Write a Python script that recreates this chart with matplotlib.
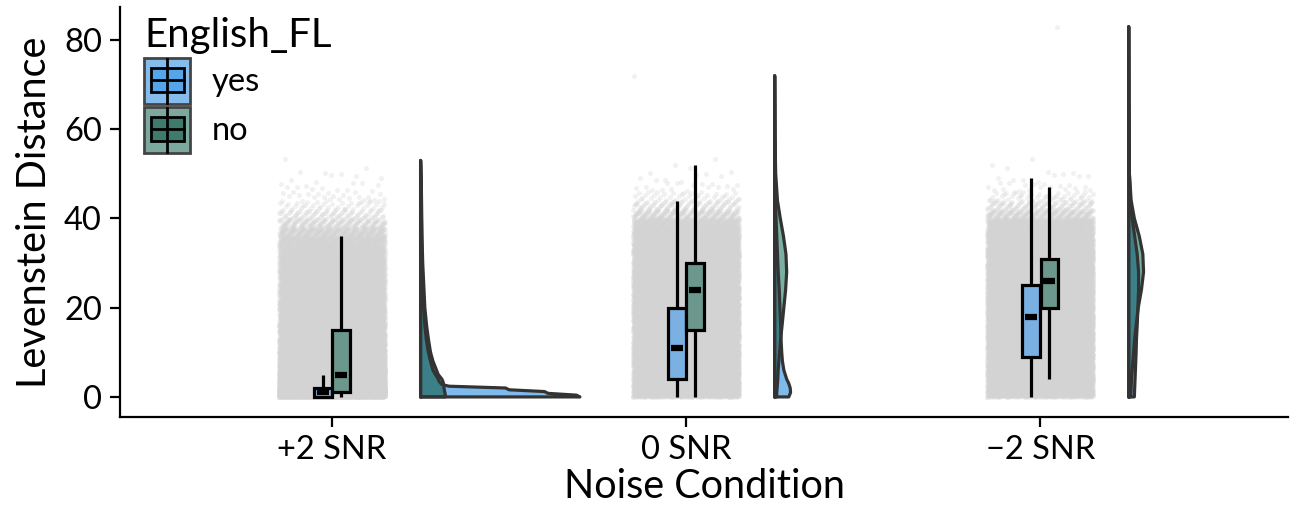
import matplotlib
matplotlib.use('Agg')
import matplotlib.pyplot as plt
from matplotlib.patches import Rectangle
import numpy as np

plt.rcParams['font.family'] = ['Lato', 'DejaVu Sans']

conditions = ["+2 SNR", "0 SNR", "\u22122 SNR"]
groups = ["yes", "no"]

# boxplot summaries (Levenstein distance)
yes_lo = [0, 0, 0]
yes_q1 = [0, 4, 9]
yes_med = [1, 11, 18]
yes_q3 = [2, 20, 25]
yes_hi = [5, 44, 49]

no_lo = [0, 0, 4]
no_q1 = [1, 15, 20]
no_med = [5, 24, 26]
no_q3 = [15, 30, 31]
no_hi = [36, 52, 47]

# raw-point cloud: counts per 2-unit bin (lower edges 0, 2, 4, ...)
cloud_counts = [
    [3200, 1900, 1400, 1100, 950, 820, 760, 700, 650, 600, 560, 520, 500, 480,
     460, 440, 420, 400, 300, 160, 80, 40, 22, 12, 6, 3, 1],
    [900, 850, 820, 800, 790, 780, 770, 760, 760, 760, 760, 750, 740, 720,
     700, 680, 650, 620, 560, 400, 200, 90, 40, 16, 7, 3, 2],
    [800, 780, 760, 750, 750, 760, 770, 780, 790, 790, 790, 790, 780, 770,
     750, 720, 690, 650, 590, 430, 220, 100, 45, 18, 8, 3, 2],
]
cloud_extra = [[], [72], [83]]

# half-violin density widths (x units) on a y grid per condition
vio_y = [
    [0, 0.4, 0.8, 1.2, 1.6, 2.0, 2.4, 2.8, 3.5, 4, 5, 6, 8, 10, 13, 16, 20, 25, 30, 36, 42, 48, 53],
    [0, 1, 2, 3, 4, 6, 8, 10, 13, 16, 20, 24, 28, 32, 36, 40, 44, 50, 58, 65, 72],
    [0, 2, 4, 6, 8, 10, 13, 16, 20, 24, 28, 32, 36, 40, 44, 50, 58, 66, 74, 83],
]
vio_yes = [
    [0.45, 0.44, 0.36, 0.35, 0.25, 0.24, 0.08, 0.06, 0.052, 0.05, 0.042, 0.035, 0.028,
     0.022, 0.016, 0.012, 0.009, 0.006, 0.004, 0.003, 0.002, 0.001, 0],
    [0.040, 0.045, 0.044, 0.040, 0.034, 0.026, 0.022, 0.020, 0.018, 0.017, 0.015,
     0.013, 0.010, 0.008, 0.006, 0.004, 0.002, 0.001, 0.0005, 0.0003, 0],
    [0.016, 0.017, 0.018, 0.019, 0.020, 0.021, 0.022, 0.024, 0.026, 0.028, 0.028,
     0.024, 0.017, 0.010, 0.005, 0.002, 0.001, 0.0005, 0.0003, 0],
]
vio_no = [
    [0.07, 0.07, 0.069, 0.068, 0.067, 0.066, 0.066, 0.065, 0.063, 0.06, 0.05, 0.045,
     0.035, 0.028, 0.022, 0.017, 0.012, 0.009, 0.006, 0.004, 0.003, 0.002, 0],
    [0.006, 0.006, 0.007, 0.008, 0.009, 0.010, 0.012, 0.014, 0.017, 0.021, 0.026,
     0.031, 0.034, 0.032, 0.025, 0.016, 0.008, 0.003, 0.001, 0.0005, 0],
    [0.006, 0.007, 0.008, 0.010, 0.012, 0.014, 0.017, 0.021, 0.027, 0.036, 0.042,
     0.040, 0.030, 0.016, 0.007, 0.002, 0.001, 0.0005, 0.0003, 0],
]

c_yes_box = "#7AB0E2"
c_no_box = "#6B978D"
c_yes_vio = "#7FBAEC"
c_no_vio = "#7AB0A2"
c_both_vio = "#3B7F88"
c_outline = "#333333"

fig = plt.figure(figsize=(12.9, 5.18), dpi=100)
ax = fig.add_axes([120 / 1290, 101 / 518, 1168 / 1290, 410 / 518])

# jittered raw points (deterministic low-discrepancy jitter)
phi = (np.sqrt(5) - 1) / 2
sq2 = np.sqrt(2) - 1
for k, counts in enumerate(cloud_counts):
    ys = []
    for b, n in enumerate(counts):
        i = np.arange(n)
        ys.append(2 * b + ((i * sq2 + 0.37 * b) % 1.0) * 2)
    ys.append(np.array(cloud_extra[k], dtype=float))
    ys = np.concatenate(ys)
    j = np.arange(len(ys))
    xs = (k + 1) + ((j * phi) % 1.0 - 0.5) * 0.30
    ax.scatter(xs, ys, s=13, color="#D3D3D3", alpha=0.3, linewidths=0, zorder=1)

# half violins
for k in range(3):
    base = (k + 1) + 0.25
    y = np.array(vio_y[k])
    wy = np.array(vio_yes[k])
    wn = np.array(vio_no[k])
    ax.fill_betweenx(y, base, base + wy, color=c_yes_vio, linewidth=0, zorder=2)
    ax.fill_betweenx(y, base, base + wn, color=c_no_vio, linewidth=0, zorder=2)
    ax.fill_betweenx(y, base, base + np.minimum(wy, wn), color=c_both_vio, linewidth=0, zorder=2)
    for w in (wy, wn):
        ax.plot(np.r_[base, base + w, base, base], np.r_[y[0], y, y[-1], y[0]],
                color=c_outline, lw=2.3, zorder=3, solid_joinstyle='round',
                solid_capstyle='round')

# boxplots
bw = 0.05
for k in range(3):
    for off, lo, q1, med, q3, hi, col in [
        (-0.026, yes_lo, yes_q1, yes_med, yes_q3, yes_hi, c_yes_box),
        (0.026, no_lo, no_q1, no_med, no_q3, no_hi, c_no_box),
    ]:
        cx = (k + 1) + off
        ax.plot([cx, cx], [q3[k], hi[k]], color="black", lw=2.3, zorder=4, solid_capstyle='butt')
        ax.plot([cx, cx], [lo[k], q1[k]], color="black", lw=2.3, zorder=4, solid_capstyle='butt')
        ax.add_patch(Rectangle((cx - bw / 2, q1[k]), bw, q3[k] - q1[k], facecolor=col,
                               edgecolor="black", lw=2.3, zorder=5))
        ax.plot([cx - 0.017, cx + 0.017], [med[k], med[k]], color="black", lw=4.5,
                zorder=6, solid_capstyle='butt')

ax.set_xlim(0.401, 3.70)
ax.set_ylim(-4.5, 87.4)
ax.set_xticks([1, 2, 3])
ax.set_xticklabels(conditions)
ax.set_yticks([0, 20, 40, 60, 80])
for s in ("top", "right"):
    ax.spines[s].set_visible(False)
for s in ("left", "bottom"):
    ax.spines[s].set_linewidth(1.6)
ax.tick_params(axis="both", length=7, width=1.6, labelsize=23.5, colors="black", pad=6)
ax.set_xlabel("Noise Condition", fontsize=28.5, labelpad=2)
ax.set_ylabel("Levenstein Distance", fontsize=28.5, labelpad=8)

# legend drawn in pixel coordinates
lax = fig.add_axes([0, 0, 1, 1], zorder=10)
lax.set_xlim(0, 1290)
lax.set_ylim(518, 0)
lax.axis("off")
lax.text(144, 36, "English_FL", fontsize=29, va="center", ha="left")
keys = [(58, "yes", "#85BCEC", "#55A5EB"), (107, "no", "#7CA99D", "#3F7B6C")]
for top, lab, outer, inner in keys:
    lax.add_patch(Rectangle((144, top), 46, 46, facecolor=outer, edgecolor="#444444", lw=2))
    lax.plot([167, 167], [top + 1, top + 45], color="black", lw=2)
    lax.add_patch(Rectangle((151, top + 10), 33, 24, facecolor=inner, edgecolor="black", lw=2))
    lax.plot([151, 184], [top + 22, top + 22], color="black", lw=2)
    lax.text(212, top + 24, lab, fontsize=23.5, va="center", ha="left")

fig.savefig("out.png", dpi=100)
